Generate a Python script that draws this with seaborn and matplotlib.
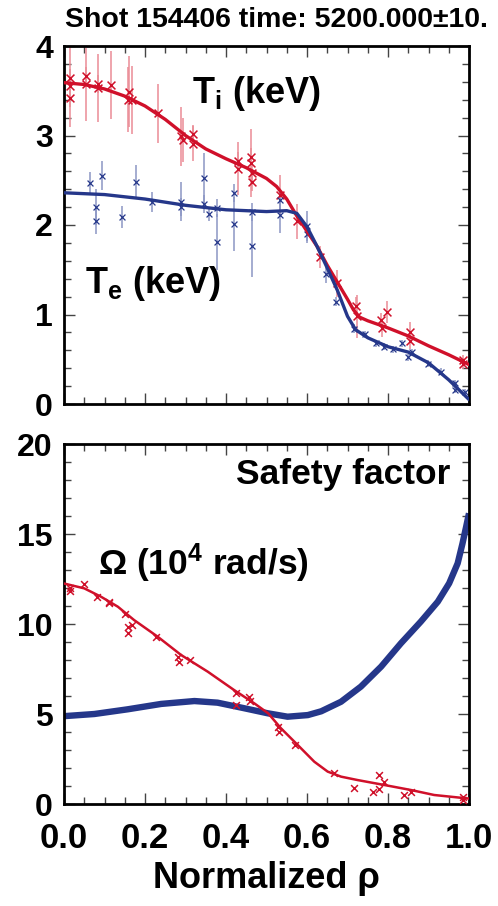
import matplotlib
matplotlib.use("Agg")
import matplotlib.pyplot as plt
from matplotlib.ticker import MultipleLocator
import numpy as np
import pandas as pd
import seaborn as sns

# ---------------- data ----------------
# Ion temperature fit (keV)
ti_fit_x = [0.0, 0.05, 0.1, 0.15, 0.2, 0.25, 0.3, 0.35, 0.4, 0.45, 0.5, 0.525, 0.55, 0.575,
            0.6, 0.625, 0.65, 0.675, 0.7, 0.715, 0.73, 0.75, 0.8, 0.85, 0.9, 0.95, 1.0]
ti_fit_y = [3.59, 3.57, 3.52, 3.44, 3.33, 3.18, 3.00, 2.85, 2.74, 2.64, 2.52, 2.43, 2.29, 2.10,
            1.93, 1.76, 1.55, 1.36, 1.17, 1.05, 0.97, 0.93, 0.85, 0.76, 0.65, 0.55, 0.44]
# Electron temperature fit (keV)
te_fit_x = [0.0, 0.1, 0.2, 0.3, 0.4, 0.5, 0.55, 0.575, 0.6, 0.625, 0.65, 0.675, 0.7, 0.72,
            0.75, 0.8, 0.85, 0.9, 0.95, 1.0]
te_fit_y = [2.36, 2.34, 2.29, 2.22, 2.17, 2.15, 2.16, 2.13, 1.98, 1.76, 1.52, 1.27, 0.98, 0.83,
            0.74, 0.64, 0.58, 0.46, 0.27, 0.05]

# Ion temperature measurements
ti_x = [0.016, 0.016, 0.016, 0.054, 0.054, 0.083, 0.083, 0.115, 0.157, 0.161, 0.169, 0.231,
        0.289, 0.293, 0.318, 0.318, 0.429, 0.429, 0.462, 0.462, 0.465, 0.465, 0.534, 0.575,
        0.631, 0.675, 0.722, 0.724, 0.782, 0.785, 0.797, 0.854, 0.854, 0.986, 0.986]
ti_y = [3.64, 3.55, 3.42, 3.67, 3.57, 3.58, 3.53, 3.56, 3.40, 3.49, 3.40, 3.25,
        2.99, 2.95, 3.02, 2.91, 2.72, 2.63, 2.76, 2.69, 2.58, 2.48, 2.34, 2.04,
        1.64, 1.35, 1.10, 0.98, 0.94, 0.85, 1.03, 0.80, 0.70, 0.49, 0.45]
ti_err = [0.10, 0.45, 0.10, 0.10, 0.41, 0.10, 0.38, 0.38, 0.36, 0.40, 0.38, 0.33,
          0.33, 0.25, 0.10, 0.20, 0.10, 0.30, 0.10, 0.38, 0.10, 0.10, 0.22, 0.20,
          0.12, 0.15, 0.10, 0.24, 0.08, 0.10, 0.12, 0.12, 0.08, 0.06, 0.06]

# Electron temperature measurements
te_x = [0.064, 0.078, 0.078, 0.094, 0.144, 0.179, 0.218, 0.29, 0.29, 0.346, 0.346, 0.359,
        0.378, 0.378, 0.42, 0.42, 0.464, 0.464, 0.534, 0.534, 0.6, 0.6, 0.648, 0.671,
        0.717, 0.743, 0.771, 0.79, 0.812, 0.834, 0.85, 0.86, 0.899, 0.932, 0.965, 0.966, 0.99]
te_y = [2.47, 2.20, 2.05, 2.55, 2.09, 2.48, 2.26, 2.26, 2.20, 2.52, 2.23, 2.12,
        2.19, 1.81, 2.36, 2.01, 1.77, 2.15, 2.28, 2.11, 1.99, 1.90, 1.45, 1.14,
        0.84, 0.78, 0.68, 0.64, 0.61, 0.68, 0.52, 0.58, 0.45, 0.36, 0.23, 0.16, 0.13]
te_err = [0.12, 0.20, 0.15, 0.16, 0.12, 0.19, 0.11, 0.22, 0.10, 0.28, 0.10, 0.08,
          0.10, 0.31, 0.10, 0.30, 0.35, 0.10, 0.10, 0.20, 0.17, 0.10, 0.10, 0.05,
          0.05, 0.04, 0.04, 0.04, 0.04, 0.04, 0.04, 0.04, 0.04, 0.04, 0.04, 0.04, 0.04]

# Safety factor profile
q_x = [0.0, 0.075, 0.157, 0.24, 0.322, 0.379, 0.445, 0.503, 0.552, 0.602, 0.635, 0.684,
       0.733, 0.783, 0.832, 0.881, 0.923, 0.951, 0.972, 0.984, 0.993, 1.0]
q_y = [4.88, 5.00, 5.26, 5.56, 5.72, 5.63, 5.32, 5.04, 4.85, 4.94, 5.15, 5.68,
       6.52, 7.63, 8.93, 10.13, 11.24, 12.26, 13.37, 14.48, 15.41, 16.15]

# Rotation Omega fit (10^4 rad/s)
om_fit_x = [0.0, 0.05, 0.091, 0.133, 0.173, 0.231, 0.289, 0.355, 0.42, 0.47, 0.504, 0.536,
            0.577, 0.618, 0.651, 0.684, 0.725, 0.79, 0.856, 0.914, 1.0]
om_fit_y = [12.25, 11.98, 11.52, 10.96, 10.22, 9.30, 8.28, 7.35, 6.33, 5.59, 5.04, 4.20,
            3.28, 2.35, 1.80, 1.52, 1.33, 1.06, 0.78, 0.50, 0.30]
# Rotation measurements
om_x = [0.016, 0.016, 0.05, 0.081, 0.11, 0.11, 0.15, 0.158, 0.158, 0.169, 0.226, 0.282, 0.285,
        0.311, 0.424, 0.424, 0.457, 0.459, 0.528, 0.531, 0.57, 0.667, 0.717, 0.763, 0.777, 0.777,
        0.79, 0.84, 0.856, 0.984, 0.984]
om_y = [11.85, 11.98, 12.22, 11.48, 11.15, 11.25, 10.54, 9.82, 9.52, 9.95, 9.30, 8.18, 7.90,
        8.00, 6.15, 5.50, 5.93, 5.70, 4.26, 3.98, 3.28, 1.74, 0.87, 0.69, 1.61, 0.83,
        1.24, 0.50, 0.69, 0.41, 0.22]

title = "Shot 154406 time: 5200.000\u00b110."
xticks = [0.0, 0.2, 0.4, 0.6, 0.8, 1.0]
xticklabels = ["0.0", "0.2", "0.4", "0.6", "0.8", "1.0"]

# ---------------- style ----------------
RED = "#d0102a"
BLUE = "#25378a"
RED_LT = "#eb8c96"
BLUE_LT = "#8b96c4"

sns.set_style("ticks")
FONT = ["Liberation Sans", "DejaVu Sans"]
plt.rcParams["font.family"] = FONT
plt.rcParams["font.weight"] = "bold"
plt.rcParams["text.color"] = "black"
plt.rcParams["axes.labelcolor"] = "black"
plt.rcParams["xtick.color"] = "black"
plt.rcParams["ytick.color"] = "black"
plt.rcParams["mathtext.fontset"] = "custom"
plt.rcParams["mathtext.rm"] = "Liberation Sans:bold"
plt.rcParams["mathtext.bf"] = "Liberation Sans:bold"
plt.rcParams["mathtext.it"] = "Liberation Sans:bold"

W, H = 498, 906
fig = plt.figure(figsize=(W / 100, H / 100), dpi=100)
ax1 = fig.add_axes([64 / W, 1 - 404 / H, 405 / W, 358 / H])
ax2 = fig.add_axes([64 / W, 1 - 804 / H, 405 / W, 360 / H])

# ---------- top panel ----------
ax1.errorbar(ti_x, ti_y, yerr=ti_err, fmt="none", ecolor=RED_LT, elinewidth=1.1, zorder=1)
ax1.errorbar(te_x, te_y, yerr=te_err, fmt="none", ecolor=BLUE_LT, elinewidth=1.1, zorder=1)
sns.scatterplot(x=ti_x, y=ti_y, marker="x", color=RED, s=32, linewidth=1.1, ax=ax1, zorder=2)
sns.scatterplot(x=te_x, y=te_y, marker="x", color=BLUE, s=18, linewidth=0.9, ax=ax1, zorder=2)
sns.lineplot(x=ti_fit_x, y=ti_fit_y, color=RED, linewidth=2.4, ax=ax1, zorder=3, sort=False,
             solid_joinstyle="round")
sns.lineplot(x=te_fit_x, y=te_fit_y, color=BLUE, linewidth=2.4, ax=ax1, zorder=4, sort=False,
             solid_joinstyle="round")

ax1.set_xlim(0, 1)
ax1.set_ylim(0, 4)
ax1.set_yticks([0, 1, 2, 3, 4])
ax1.yaxis.set_minor_locator(MultipleLocator(0.2))
ax1.set_xticks(xticks)
ax1.set_xticklabels([])
ax1.xaxis.set_minor_locator(MultipleLocator(0.05))

ax1.text(0.317, 3.47, r"T$_\mathbf{i}$ (keV)", fontsize=26, fontweight="bold",
         ha="left", va="center", family=FONT, color="black")
ax1.text(0.052, 1.35, r"T$_\mathbf{e}$ (keV)", fontsize=26, fontweight="bold",
         ha="left", va="center", family=FONT, color="black")

# ---------- bottom panel ----------
sns.lineplot(x=q_x, y=q_y, color=BLUE, linewidth=4.6, ax=ax2, zorder=2, sort=False,
             solid_joinstyle="round", solid_capstyle="butt")
sns.scatterplot(x=om_x, y=om_y, marker="x", color=RED, s=24, linewidth=1.1, ax=ax2, zorder=3)
sns.lineplot(x=om_fit_x, y=om_fit_y, color=RED, linewidth=1.8, ax=ax2, zorder=4, sort=False,
             solid_joinstyle="round")

ax2.set_xlim(0, 1)
ax2.set_ylim(0, 20)
ax2.set_yticks([0, 5, 10, 15, 20])
ax2.yaxis.set_minor_locator(MultipleLocator(1))
ax2.set_xticks(xticks)
ax2.set_xticklabels(xticklabels)
ax2.xaxis.set_minor_locator(MultipleLocator(0.05))

ax2.text(0.955, 18.3, "Safety factor", fontsize=25.5, fontweight="bold",
         ha="right", va="center", family=FONT, color="black")
ax2.text(0.084, 13.4, "\u03a9 (10$^\\mathbf{4}$ rad/s)", fontsize=25.5, fontweight="bold",
         ha="left", va="center", family=FONT, color="black")

ax2.set_xlabel("Normalized \u03c1", fontsize=26, fontweight="bold", labelpad=4, family=FONT,
               color="black")

for ax in (ax1, ax2):
    for sp in ax.spines.values():
        sp.set_visible(True)
        sp.set_linewidth(2.0)
        sp.set_color("black")
    ax.tick_params(which="both", direction="in", top=True, right=True, width=1.0,
                   color="#444444", labelcolor="black")
    ax.tick_params(which="major", length=8)
    ax.tick_params(which="minor", length=5)
    ax.set_ylabel("")

ax1.tick_params(axis="y", labelsize=23, pad=8)
ax2.tick_params(axis="y", labelsize=23, pad=8)
ax2.tick_params(axis="x", labelsize=25, pad=13)
for lab in ax1.get_yticklabels() + ax2.get_yticklabels() + ax2.get_xticklabels():
    lab.set_fontweight("bold")

fig.text(65 / W, 1 - 20 / H, title, fontsize=20.5, fontweight="bold", ha="left", va="center",
         family=FONT, color="black")

fig.savefig("out.png", dpi=100)
